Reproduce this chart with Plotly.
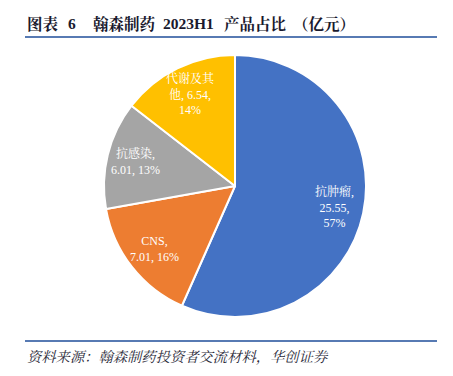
import math
import plotly.graph_objects as go

W, H = 453, 376

categories = ["抗肿瘤", "CNS", "抗感染", "代谢及其他"]
values = [25.55, 7.01, 6.01, 6.54]
percents = ["57%", "16%", "13%", "14%"]
colors = ["#4472C4", "#ED7D31", "#A5A5A5", "#FFC000"]
# label line layout as in the source picture
label_lines = [
    ["抗肿瘤,", "{v},", "{p}"],
    ["CNS,", "{v}, {p}"],
    ["抗感染,", "{v}, {p}"],
    ["代谢及其", "他, {v},", "{p}"],
]

texts = []
for name, v, p, lines in zip(categories, values, percents, label_lines):
    texts.append("<br>".join(l.format(v=f"{v:.2f}", p=p) for l in lines))

serif = "Times New Roman, Liberation Serif, Noto Serif CJK SC, Noto Sans CJK SC, serif"

# pie placement (pixels)
cx, cy, r = 235, 186, 131
fig = go.Figure(go.Pie(
    labels=categories,
    values=values,
    textinfo="none",
    sort=False,
    direction="clockwise",
    rotation=0,
    marker=dict(colors=colors, line=dict(color="white", width=2)),
    hoverinfo="label+value+percent",
    showlegend=False,
    domain=dict(x=[(cx - r) / W, (cx + r) / W], y=[(H - cy - r) / H, (H - cy + r) / H]),
))

# data labels placed at the middle angle of each slice
annotations = []
total = sum(values)
cum = 0.0
label_r = 0.78 * r
for v, t in zip(values, texts):
    mid = (cum + v / 2) / total * 2 * math.pi
    cum += v
    px = cx + label_r * math.sin(mid)
    py = cy - label_r * math.cos(mid)
    annotations.append(dict(
        text=t, x=px / W, y=1 - py / H, xref="paper", yref="paper",
        xanchor="center", yanchor="middle", align="center", showarrow=False,
        font=dict(size=12, color="white", family=serif),
    ))

title_parts = [("图表", 25), ("6", 66), ("翰森制药", 91), ("2023H1", 161), ("产品占比", 222), ("（亿元）", 291)]
for txt, x in title_parts:
    annotations.append(dict(
        text="<b>" + txt + "</b>", x=x / W, y=1 - 24 / H, xref="paper", yref="paper",
        xanchor="left", yanchor="middle", showarrow=False,
        font=dict(size=15.5, color="#1a1a2e", family=serif),
    ))

source = "资料来源：翰森制药投资者交流材料，华创证券"
annotations.append(dict(
    text="<i>" + source + "</i>", x=25 / W, y=1 - 357 / H, xref="paper", yref="paper",
    xanchor="left", yanchor="middle", showarrow=False,
    font=dict(size=14.3, color="#2b2b3a", family=serif),
))

fig.update_layout(
    width=W, height=H,
    margin=dict(l=0, r=0, t=0, b=0),
    paper_bgcolor="white",
    plot_bgcolor="white",
    annotations=annotations,
    shapes=[
        dict(type="line", xref="paper", yref="paper", x0=25 / W, x1=437 / W,
             y0=1 - 37 / H, y1=1 - 37 / H, line=dict(color="#1F4E9A", width=1.5)),
        dict(type="line", xref="paper", yref="paper", x0=25 / W, x1=437 / W,
             y0=1 - 341 / H, y1=1 - 341 / H, line=dict(color="#1F4E9A", width=1.5)),
    ],
)

fig.write_html("out.html", post_script="document.body.style.margin='0';",
               config={"displayModeBar": False})
